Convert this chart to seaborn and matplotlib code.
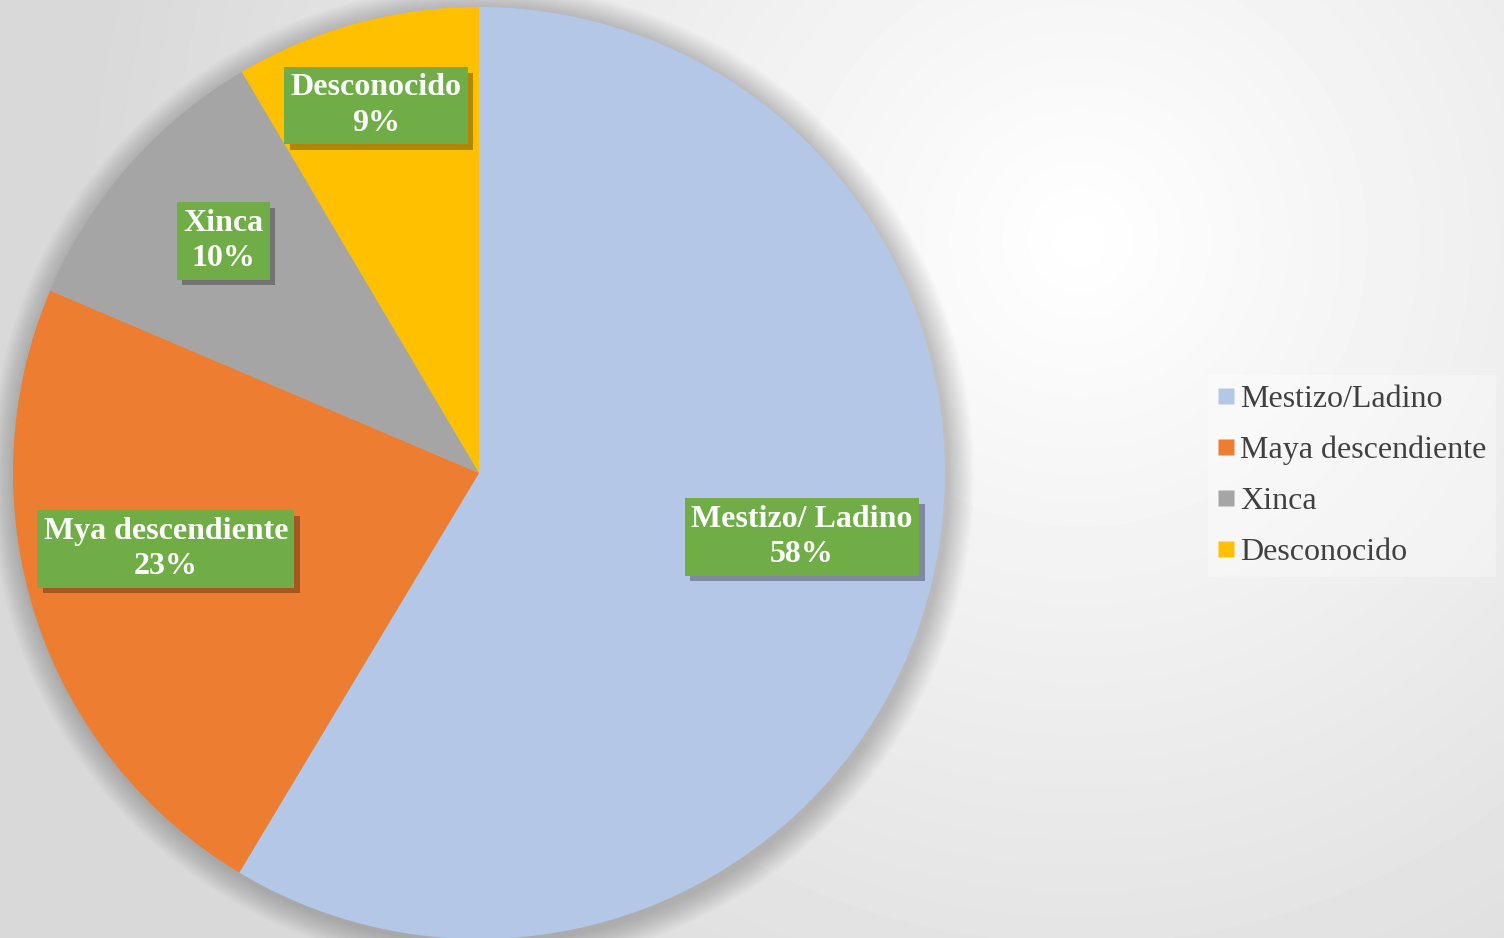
import numpy as np
import matplotlib
matplotlib.use("Agg")
import matplotlib.pyplot as plt
import matplotlib.patheffects as pe
from matplotlib.lines import Line2D
import seaborn as sns

# datos
grupos = ["Mestizo/Ladino", "Maya descendiente", "Xinca", "Desconocido"]
etiquetas = ["Mestizo/ Ladino", "Mya descendiente", "Xinca", "Desconocido"]
valores = [58.6, 22.8, 10.1, 8.5]          # tamaño de las porciones
porcentajes = [58, 23, 10, 9]              # texto de las etiquetas
colores = ["#B4C7E7", "#ED7D31", "#A5A5A5", "#FFC000"]

# posicion de las etiquetas (coordenadas del pastel)
pos_etiquetas = [(0.693, -0.137), (-0.672, -0.163), (-0.549, 0.498), (-0.221, 0.788)]

sns.set_style("white")
plt.rcParams["font.family"] = ["Liberation Serif", "DejaVu Serif"]

W, H = 1504, 938
fig = plt.figure(figsize=(W / 100, H / 100), dpi=100)

# fondo con degradado radial
bg = fig.add_axes([0, 0, 1, 1])
yy, xx = np.mgrid[0:H, 0:W]
d = np.hypot(xx - 1080, yy - 240)
v = 1.0 - 0.15 * np.clip(d / 1000, 0, 1)
bg.imshow(v, cmap="gray", vmin=0, vmax=1, aspect="auto", extent=[0, W, H, 0])
bg.set_axis_off()

# pastel
cx, cy, r = 479, 473, 466
ax = fig.add_axes([(cx - r) / W, (H - cy - r) / H, 2 * r / W, 2 * r / H])

# sombra suave alrededor del pastel
for i in range(14):
    circ = plt.Circle((0.006, -0.008), 1.0 + 0.004 * (14 - i), color="black",
                      alpha=0.014, lw=0, zorder=0, clip_on=False)
    ax.add_patch(circ)

wedges, _ = ax.pie(valores, colors=colores, startangle=90, counterclock=False,
                   radius=1.0, wedgeprops=dict(linewidth=0))
for w in wedges:
    w.set_zorder(1)
    w.set_clip_on(False)
ax.set_xlim(-1, 1)
ax.set_ylim(-1, 1)
ax.set_aspect("auto")
ax.set_axis_off()

for etq, p, (x, y) in zip(etiquetas, porcentajes, pos_etiquetas):
    t = ax.text(x, y, f"{etq}\n{p}%", ha="center", va="center", fontsize=23,
                fontweight="bold", color="white", linespacing=1.3, zorder=4,
                bbox=dict(boxstyle="square,pad=0.2", fc="#70AD47", ec="none"))
    t.get_bbox_patch().set_path_effects(
        [pe.SimplePatchShadow(offset=(4, -4), shadow_rgbFace="black", alpha=0.3), pe.Normal()])

handles = [Line2D([0], [0], marker="s", linestyle="none", markersize=11,
                  markerfacecolor=c, markeredgecolor="none") for c in colores]
leg = fig.legend(handles, grupos, loc="center left", bbox_to_anchor=(1208 / W, 1 - 476 / H),
                 frameon=True, fontsize=23, handlelength=0.5, handletextpad=0.2,
                 labelspacing=0.68, borderpad=0.3, borderaxespad=0, fancybox=False)
leg.get_frame().set_facecolor("white")
leg.get_frame().set_alpha(0.35)
leg.get_frame().set_edgecolor("none")
for t in leg.get_texts():
    t.set_color("#404040")

fig.savefig("out.png", dpi=100)
